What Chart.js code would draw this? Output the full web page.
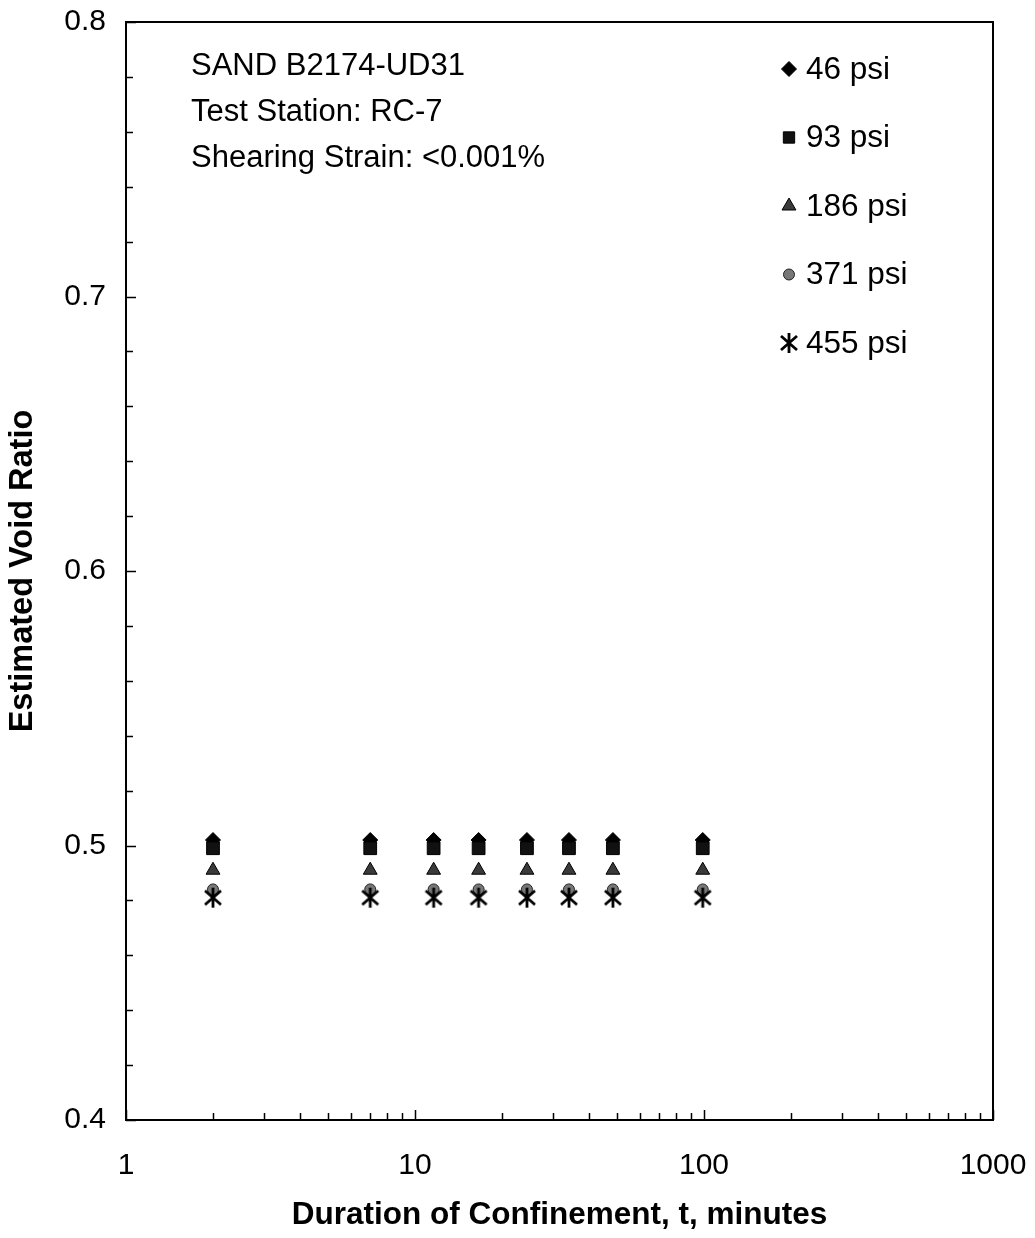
<!DOCTYPE html>
<html lang="en">
<head>
<meta charset="UTF-8">
<title>Estimated Void Ratio vs Duration of Confinement</title>
<script src="https://cdn.jsdelivr.net/npm/chart.js"></script>
<style>
    html, body { margin: 0; padding: 0; background: #fff; }
    #wrap { width: 1035px; height: 1238px; }
</style>
</head>
<body>
<div id="wrap"><canvas id="myChart" width="1035" height="1238"></canvas></div>
<script>
    // data
    const durations = [2, 7, 11.6, 16.6, 24.4, 34.1, 48.4, 99];
    const e46  = [0.502, 0.502, 0.502, 0.502, 0.502, 0.502, 0.502, 0.502];
    const e93  = [0.499, 0.499, 0.499, 0.499, 0.499, 0.499, 0.499, 0.499];
    const e186 = [0.491, 0.491, 0.491, 0.491, 0.491, 0.491, 0.491, 0.491];
    const e371 = [0.484, 0.484, 0.484, 0.484, 0.484, 0.484, 0.484, 0.484];
    const e455 = [0.481, 0.481, 0.481, 0.481, 0.481, 0.481, 0.481, 0.481];
    const seriesLabels = ['46 psi', '93 psi', '186 psi', '371 psi', '455 psi'];
    const xTicks = [1, 10, 100, 1000];
    const yTicks = [0.4, 0.5, 0.6, 0.7, 0.8];
    const notes = ['SAND B2174-UD31', 'Test Station: RC-7', 'Shearing Strain: <0.001%'];

    const FONT = '"Liberation Sans", Arial, sans-serif';

    // asterisk marker (6 arms)
    function makeAsterisk() {
        const c = document.createElement('canvas');
        c.width = 20; c.height = 22;
        const g = c.getContext('2d');
        g.strokeStyle = '#000';
        g.lineWidth = 2.8;
        g.beginPath();
        g.moveTo(10, 1); g.lineTo(10, 21);
        g.moveTo(2, 4); g.lineTo(18, 18);
        g.moveTo(18, 4); g.lineTo(2, 18);
        g.stroke();
        return c;
    }
    const asterisk = makeAsterisk();

    function toPoints(ys) {
        return durations.map((t, i) => ({ x: t, y: ys[i] }));
    }

    const styles = [
        { pointStyle: 'rectRot', radius: 7.5, bg: '#000', border: '#000', order: 4 },
        { pointStyle: 'rect', radius: 9, bg: '#111', border: '#000', order: 3 },
        { pointStyle: 'triangle', radius: 8, bg: '#3a3a3a', border: '#000', order: 2 },
        { pointStyle: 'circle', radius: 5.5, bg: '#777', border: '#222', order: 1 },
        { pointStyle: asterisk, radius: 10, bg: '#000', border: '#000', order: 0 }
    ];
    const allValues = [e46, e93, e186, e371, e455];

    const datasets = allValues.map((vals, i) => ({
        label: seriesLabels[i],
        data: toPoints(vals),
        pointStyle: styles[i].pointStyle,
        pointRadius: styles[i].radius,
        pointHoverRadius: styles[i].radius,
        pointBackgroundColor: styles[i].bg,
        pointBorderColor: styles[i].border,
        pointBorderWidth: 1,
        showLine: false,
        order: styles[i].order
    }));

    // frame, inward ticks, notes and legend
    const decorations = {
        id: 'decorations',
        afterDraw(chart) {
            const ctx = chart.ctx;
            const a = chart.chartArea;
            const xs = chart.scales.x;
            const ys = chart.scales.y;
            ctx.save();
            ctx.strokeStyle = '#000';
            ctx.lineWidth = 2;
            ctx.strokeRect(a.left, a.top, a.right - a.left, a.bottom - a.top);

            ctx.lineWidth = 1.5;
            ctx.beginPath();
            // y ticks, every 0.02
            for (let k = 0; k <= 20; k++) {
                const v = 0.4 + k * 0.02;
                const py = Math.round(ys.getPixelForValue(v)) + 0.5;
                const len = (k % 5 === 0) ? 10 : 7;
                ctx.moveTo(a.left, py); ctx.lineTo(a.left + len, py);
            }
            // x ticks, log decades
            for (let d = 1; d < 1000; d *= 10) {
                for (let m = 1; m <= 10; m++) {
                    const px = Math.round(xs.getPixelForValue(d * m)) + 0.5;
                    const len = (m === 1 || m === 10) ? 10 : 7;
                    ctx.moveTo(px, a.bottom); ctx.lineTo(px, a.bottom - len);
                }
            }
            ctx.stroke();

            ctx.fillStyle = '#000';
            ctx.font = '31px ' + FONT;
            ctx.textAlign = 'left';
            ctx.textBaseline = 'middle';
            notes.forEach((t, i) => ctx.fillText(t, 191, 66 + i * 46));

            // legend
            ctx.font = '31.5px ' + FONT;
            chart.data.datasets.forEach((ds, i) => {
                const y = 69 + i * 68.5;
                ctx.fillStyle = ds.pointBackgroundColor;
                ctx.strokeStyle = ds.pointBorderColor;
                ctx.lineWidth = 1;
                Chart.helpers.drawPoint(ctx, {
                    pointStyle: ds.pointStyle,
                    radius: Math.min(ds.pointRadius, 8),
                    rotation: 0,
                    borderWidth: 1
                }, 789, y);
                ctx.fillStyle = '#000';
                ctx.fillText(ds.label, 806, y + 1);
            });
            ctx.restore();
        }
    };

    const ctx = document.getElementById('myChart').getContext('2d');
    const myChart = new Chart(ctx, {
        type: 'scatter',
        data: { datasets: datasets },
        options: {
            responsive: false,
            animation: false,
            layout: { padding: { top: 22, right: 42, left: 0, bottom: 0 } },
            plugins: {
                legend: { display: false },
                tooltip: { enabled: false }
            },
            scales: {
                x: {
                    type: 'logarithmic',
                    min: 1,
                    max: 1000,
                    afterBuildTicks(scale) { scale.ticks = xTicks.map(v => ({ value: v })); },
                    afterFit(scale) {
                        scale.height = 118;
                        scale.paddingLeft = 0;
                        scale.paddingRight = 0;
                    },
                    grid: { display: false, drawTicks: false },
                    border: { display: false },
                    ticks: {
                        color: '#000',
                        font: { family: FONT, size: 30 },
                        padding: 28,
                        maxRotation: 0,
                        callback: v => String(v)
                    },
                    title: {
                        display: true,
                        text: 'Duration of Confinement, t, minutes',
                        color: '#000',
                        font: { family: FONT, size: 31.5, weight: 'bold' },
                        padding: { top: 0, bottom: 4 }
                    }
                },
                y: {
                    type: 'linear',
                    min: 0.4,
                    max: 0.8,
                    afterBuildTicks(scale) { scale.ticks = yTicks.map(v => ({ value: v })); },
                    afterFit(scale) {
                        scale.width = 126;
                        scale.paddingTop = 0;
                        scale.paddingBottom = 0;
                    },
                    grid: { display: false, drawTicks: false },
                    border: { display: false },
                    ticks: {
                        color: '#000',
                        font: { family: FONT, size: 30 },
                        padding: 20,
                        callback: v => Number(v).toFixed(1)
                    },
                    title: {
                        display: true,
                        text: 'Estimated Void Ratio',
                        color: '#000',
                        font: { family: FONT, size: 32.5, weight: 'bold' },
                        padding: { top: 4, bottom: 0 }
                    }
                }
            }
        },
        plugins: [decorations]
    });
</script>
</body>
</html>
